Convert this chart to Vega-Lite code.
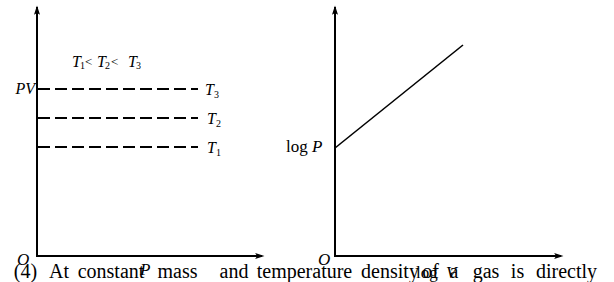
{
  "$schema": "https://vega.github.io/schema/vega-lite/v6.json",
  "width": 614,
  "height": 282,
  "padding": 0,
  "autosize": {"type": "fit", "contains": "padding"},
  "background": "white",
  "config": {"view": {"stroke": null}},
  "encoding": {
    "x": {"field": "x", "type": "quantitative", "scale": {"domain": [0, 614], "nice": false, "zero": false}, "axis": null},
    "y": {"field": "y", "type": "quantitative", "scale": {"domain": [0, 282], "nice": false, "zero": false}, "axis": null}
  },
  "layer": [
    {
      "data": {"values": [
        {"x": 37, "y": 25, "x2": 37, "y2": 275},
        {"x": 36, "y": 26, "x2": 262, "y2": 26},
        {"x": 335, "y": 25, "x2": 335, "y2": 275},
        {"x": 334, "y": 26, "x2": 561, "y2": 26}
      ]},
      "mark": {"type": "rule", "color": "black", "strokeWidth": 2},
      "encoding": {"x2": {"field": "x2"}, "y2": {"field": "y2"}}
    },
    {
      "data": {"values": [
        {"x": 335, "y": 134, "x2": 463, "y2": 237}
      ]},
      "mark": {"type": "rule", "color": "black", "strokeWidth": 1.6},
      "encoding": {"x2": {"field": "x2"}, "y2": {"field": "y2"}}
    },
    {
      "data": {"values": [
        {"x": 38, "y": 193, "x2": 198, "y2": 193},
        {"x": 38, "y": 164, "x2": 198, "y2": 164},
        {"x": 38, "y": 135, "x2": 198, "y2": 135}
      ]},
      "mark": {"type": "rule", "color": "black", "strokeWidth": 1.8, "strokeDash": [12, 5]},
      "encoding": {"x2": {"field": "x2"}, "y2": {"field": "y2"}}
    },
    {
      "data": {"values": [
        {"x": 37, "y": 271},
        {"x": 335, "y": 271}
      ]},
      "mark": {"type": "point", "filled": true, "color": "black", "opacity": 1, "size": 120, "shape": "M0,-1L0.55,0.7L0,0.35L-0.55,0.7Z"}
    },
    {
      "data": {"values": [
        {"x": 259, "y": 26},
        {"x": 558, "y": 26}
      ]},
      "mark": {"type": "point", "filled": true, "color": "black", "opacity": 1, "size": 120, "shape": "M1,0L-0.7,0.55L-0.35,0L-0.7,-0.55Z"}
    },
    {
      "data": {"values": [
        {"x": 72, "y": 215, "t": "T"},
        {"x": 97, "y": 215, "t": "T"},
        {"x": 128, "y": 215, "t": "T"},
        {"x": 205, "y": 187, "t": "T"},
        {"x": 207, "y": 158, "t": "T"},
        {"x": 207, "y": 129, "t": "T"}
      ]},
      "mark": {"type": "text", "align": "left", "baseline": "alphabetic", "font": "Liberation Serif", "fontStyle": "italic", "fontSize": 16, "color": "black"},
      "encoding": {"text": {"field": "t"}}
    },
    {
      "data": {"values": [
        {"x": 80, "y": 213, "t": "1"},
        {"x": 105, "y": 213, "t": "2"},
        {"x": 136, "y": 213, "t": "3"},
        {"x": 214, "y": 184, "t": "3"},
        {"x": 216, "y": 155, "t": "2"},
        {"x": 216, "y": 126, "t": "1"}
      ]},
      "mark": {"type": "text", "align": "left", "baseline": "alphabetic", "font": "Liberation Serif", "fontSize": 10, "color": "black"},
      "encoding": {"text": {"field": "t"}}
    },
    {
      "data": {"values": [
        {"x": 85, "y": 216, "t": "<"},
        {"x": 111, "y": 216, "t": "<"}
      ]},
      "mark": {"type": "text", "align": "left", "baseline": "alphabetic", "font": "Liberation Serif", "fontSize": 13, "color": "black"},
      "encoding": {"text": {"field": "t"}}
    },
    {
      "data": {"values": [
        {"x": 35, "y": 188, "t": "PV"}
      ]},
      "mark": {"type": "text", "align": "right", "baseline": "alphabetic", "font": "Liberation Serif", "fontStyle": "italic", "fontSize": 16, "color": "black"},
      "encoding": {"text": {"field": "t"}}
    },
    {
      "data": {"values": [
        {"x": 286, "y": 130, "t": "log"},
        {"x": 416, "y": 4, "t": "log"}
      ]},
      "mark": {"type": "text", "align": "left", "baseline": "alphabetic", "font": "Liberation Serif", "fontSize": 17, "color": "black"},
      "encoding": {"text": {"field": "t"}}
    },
    {
      "data": {"values": [
        {"x": 312, "y": 130, "t": "P"},
        {"x": 446, "y": 4, "t": "V"},
        {"x": 140, "y": 7, "t": "P"},
        {"x": 17, "y": 17, "t": "O"},
        {"x": 318, "y": 17, "t": "O"}
      ]},
      "mark": {"type": "text", "align": "left", "baseline": "alphabetic", "font": "Liberation Serif", "fontStyle": "italic", "fontSize": 17, "color": "black"},
      "encoding": {"text": {"field": "t"}}
    },
    {
      "data": {"values": [
        {"x": 25.5, "y": 4, "t": "(4)"},
        {"x": 59, "y": 4, "t": "At"},
        {"x": 111, "y": 4, "t": "constant"},
        {"x": 177.5, "y": 4, "t": "mass"},
        {"x": 234, "y": 4, "t": "and"},
        {"x": 304.5, "y": 4, "t": "temperature"},
        {"x": 390, "y": 4, "t": "density"},
        {"x": 430.5, "y": 4, "t": "of"},
        {"x": 454, "y": 4, "t": "a"},
        {"x": 486, "y": 4, "t": "gas"},
        {"x": 517.5, "y": 4, "t": "is"},
        {"x": 566.5, "y": 4, "t": "directly"}
      ]},
      "mark": {"type": "text", "align": "center", "baseline": "alphabetic", "font": "Liberation Serif", "fontSize": 20, "color": "black"},
      "encoding": {"text": {"field": "t"}}
    }
  ]
}
